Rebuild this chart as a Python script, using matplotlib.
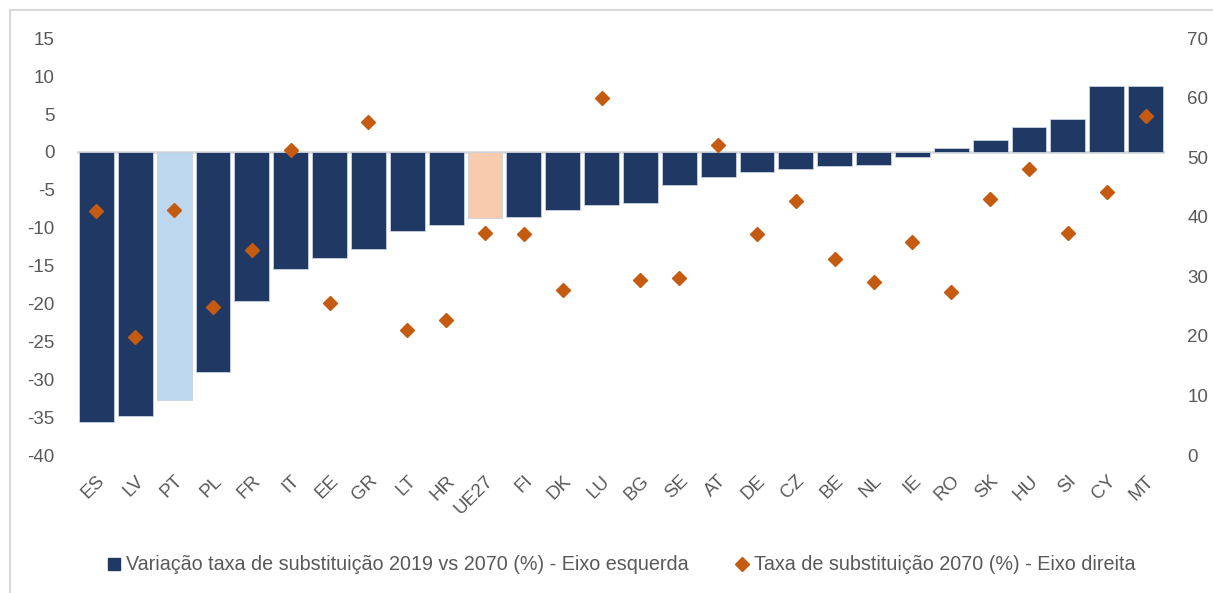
import matplotlib
matplotlib.use("Agg")
import matplotlib.pyplot as plt
from matplotlib.lines import Line2D
from matplotlib.patches import Rectangle
import numpy as np

categories = ["ES", "LV", "PT", "PL", "FR", "IT", "EE", "GR", "LT", "HR", "UE27", "FI", "DK", "LU",
              "BG", "SE", "AT", "DE", "CZ", "BE", "NL", "IE", "RO", "SK", "HU", "SI", "CY", "MT"]
variacao = [-35.7, -34.8, -32.7, -29.0, -19.7, -15.4, -14.0, -12.8, -10.5, -9.7, -8.7, -8.6, -7.6, -7.0,
            -6.7, -4.3, -3.3, -2.6, -2.2, -1.9, -1.7, -0.7, 0.5, 1.6, 3.35, 4.3, 8.7, 8.7]
taxa_2070 = [41.0, 19.8, 41.2, 24.9, 34.5, 51.3, 25.6, 56.0, 21.0, 22.6, 37.3, 37.1, 27.8, 59.9,
             29.4, 29.7, 52.0, 37.1, 42.7, 33.0, 29.0, 35.8, 27.4, 43.0, 48.0, 37.3, 44.2, 56.9]
left_ticks = [15, 10, 5, 0, -5, -10, -15, -20, -25, -30, -35, -40]
right_ticks = [70, 60, 50, 40, 30, 20, 10, 0]
legend_labels = ["Variação taxa de substituição 2019 vs 2070 (%) - Eixo esquerda",
                 "Taxa de substituição 2070 (%) - Eixo direita"]

NAVY = "#203864"
LIGHTBLUE = "#BDD7EE"
PEACH = "#F8CBAD"
ORANGE = "#C55A11"
TXT = "#595959"

plt.rcParams['font.family'] = ['Liberation Sans', 'DejaVu Sans']

W, H = 1213, 593
fig = plt.figure(figsize=(W / 100, H / 100), dpi=100)
fig.patches.append(Rectangle((10 / W, -0.1), 1.2, 1 - 10 / H + 0.1, transform=fig.transFigure,
                             fill=False, edgecolor="#D9D9D9", linewidth=1.5))

ax = fig.add_axes([77 / W, 1 - 455 / H, (1165 - 77) / W, (455 - 38.3) / H])
x = np.arange(len(categories))
colors = [LIGHTBLUE if c == "PT" else PEACH if c == "UE27" else NAVY for c in categories]
ax.bar(x, variacao, width=0.9, color=colors, edgecolor="#C9D1DE", linewidth=0.6, zorder=2)
ax.axhline(0, color="#D9D9D9", linewidth=2, zorder=1)
ax.set_xlim(-0.5, len(categories) - 0.5)
ax.set_ylim(-40, 15)
ax.set_yticks(left_ticks)
ax.set_yticklabels([str(t) for t in left_ticks])
ax.set_xticks(x)
ax.set_xticklabels(categories, rotation=45, ha="right", va="top", rotation_mode="anchor")
ax.tick_params(axis="both", length=0, colors=TXT, labelsize=13.5)
ax.tick_params(axis="y", pad=16)
ax.tick_params(axis="x", pad=12.5)
for s in ax.spines.values():
    s.set_visible(False)

ax2 = ax.twinx()
ax2.plot(x, taxa_2070, linestyle="none", marker="D", markersize=7.5, color=ORANGE, zorder=3)
ax2.set_ylim(0, 70)
ax2.set_yticks(right_ticks)
ax2.tick_params(axis="y", length=0, colors=TXT, labelsize=13.5, pad=16)
for s in ax2.spines.values():
    s.set_visible(False)

handles = [Line2D([], [], linestyle="none", marker="s", markersize=9, color=NAVY),
           Line2D([], [], linestyle="none", marker="D", markersize=7, color=ORANGE)]
fig.legend(handles, legend_labels, loc="center", bbox_to_anchor=(621 / W, 1 - 565 / H), ncol=2,
           frameon=False, fontsize=14.2, labelcolor=TXT, handlelength=0.8, handletextpad=0.2,
           columnspacing=2.3)

fig.savefig("out.png", dpi=100)
